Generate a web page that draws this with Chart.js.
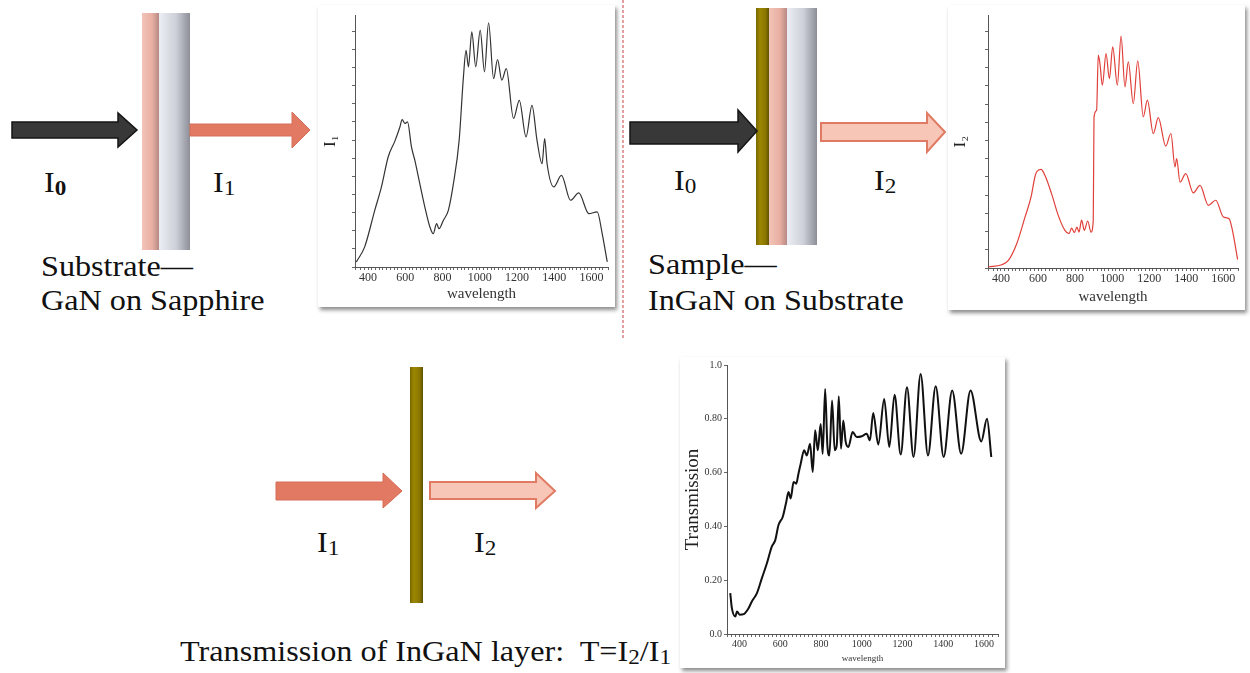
<!DOCTYPE html>
<html>
<head>
<meta charset="utf-8">
<script src="https://cdn.jsdelivr.net/npm/chart.js@4"></script>
<style>
  body { margin: 0; background: #fff; width: 1250px; height: 673px; position: relative; overflow: hidden; color: #111; }
  .lbl { position: absolute; font-family: 'Liberation Serif', 'DejaVu Serif', serif; font-size: 29px; line-height: 1; white-space: nowrap;
         transform: scaleX(1.11); transform-origin: 0 0; }
  .lbl sub { font-size: 0.72em; vertical-align: -0.15em; line-height: 0; }
  .panel { position: absolute; background: #fff; box-shadow: 2px 3px 4px rgba(0,0,0,0.45); }
  .panel canvas { display: block; }
  svg { position: absolute; left: 0; top: 0; }
</style>
</head>
<body>

<svg width="1250" height="673">
  <defs>
    <linearGradient id="gPink" x1="0" x2="1" y1="0" y2="0">
      <stop offset="0" stop-color="#f3c4b8"/><stop offset="0.6" stop-color="#e8afa3"/><stop offset="1" stop-color="#b68a84"/>
    </linearGradient>
    <linearGradient id="gGrey" x1="0" x2="1" y1="0" y2="0">
      <stop offset="0" stop-color="#eceef4"/><stop offset="0.55" stop-color="#cdd0d8"/><stop offset="1" stop-color="#8d8e98"/>
    </linearGradient>
    <linearGradient id="gOlive" x1="0" x2="1" y1="0" y2="0">
      <stop offset="0" stop-color="#7a6800"/><stop offset="0.3" stop-color="#9c8700"/><stop offset="0.75" stop-color="#8a7600"/><stop offset="1" stop-color="#5f5200"/>
    </linearGradient>
  </defs>

  <!-- dashed divider -->
  <line x1="623" y1="0" x2="623" y2="340" stroke="#d98080" stroke-width="1.5" stroke-dasharray="3 2"/>

  <!-- substrate -->
  <rect x="142" y="13" width="17" height="237" fill="url(#gPink)"/>
  <rect x="159" y="13" width="31" height="237" fill="url(#gGrey)"/>
  <polygon points="12,122 118,122 118,113 137,130 118,147 118,138 12,138" fill="#383838" stroke="#151515" stroke-width="1.5"/>
  <polygon points="190,124 292,124 292,112 310,130 292,148 292,136 190,136" fill="#e27a63" stroke="#d66c57" stroke-width="1"/>

  <!-- sample -->
  <rect x="756" y="8" width="13" height="237" fill="url(#gOlive)"/>
  <rect x="769" y="8" width="18" height="237" fill="url(#gPink)"/>
  <rect x="787" y="8" width="30" height="237" fill="url(#gGrey)"/>
  <polygon points="630,122 738,122 738,110 757,131 738,152 738,144 630,144" fill="#383838" stroke="#151515" stroke-width="1.5"/>
  <polygon points="821,123 927,123 927,113 945,132 927,152 927,141 821,141" fill="#f8c6b7" stroke="#e07a63" stroke-width="2"/>

  <!-- InGaN layer alone -->
  <rect x="410" y="367" width="13" height="236" fill="url(#gOlive)"/>
  <polygon points="276,482 383,482 383,473 402,491 383,508 383,500 276,500" fill="#e27a63" stroke="#d66c57" stroke-width="1"/>
  <polygon points="430,482 536,482 536,473 555,491 536,508 536,499 430,499" fill="#f8c6b7" stroke="#e07a63" stroke-width="2"/>
</svg>

<div class="lbl" style="left:44px; top:168px;">I<sub style="font-weight:bold">0</sub></div>
<div class="lbl" style="left:213px; top:168px;">I<sub>1</sub></div>
<div class="lbl" style="left:41px; top:252px;">Substrate—</div>
<div class="lbl" style="left:41px; top:286px;">GaN on Sapphire</div>

<div class="lbl" style="left:674px; top:166px;">I<sub>0</sub></div>
<div class="lbl" style="left:874px; top:166px;">I<sub>2</sub></div>
<div class="lbl" style="left:648px; top:250px;">Sample—</div>
<div class="lbl" style="left:648px; top:286px;">InGaN on Substrate</div>

<div class="lbl" style="left:317px; top:528px;">I<sub>1</sub></div>
<div class="lbl" style="left:474px; top:528px;">I<sub>2</sub></div>
<div class="lbl" style="left:180px; top:637px;">Transmission of InGaN layer:&nbsp; T=I<sub>2</sub>/I<sub>1</sub></div>

<div class="panel" style="left:318px; top:5px; width:297px; height:302px;"><canvas id="c1" width="297" height="302"></canvas></div>
<div class="panel" style="left:948px; top:5px; width:297px; height:305px;"><canvas id="c2" width="297" height="305"></canvas></div>
<div class="panel" style="left:680px; top:357px; width:325px; height:311px;"><canvas id="c3" width="325" height="311"></canvas></div>

<script>
// substrate spectrum I1 (arbitrary units, 0-100)
const wl1 = [337,382,436,472,508,544,571,583,598,612,633,651,678,705,732,750,768,781,804,831,
             858,889,912,926,939,957,978,1002,1025,1047,1074,1095,1118,1142,1181,1212,1248,1280,1307,1334,
             1348,1361,1397,1438,1487,1531,1585,1630,1657,1684];
const i1 = [2,8,22.5,31.8,43.7,50,55.6,58.5,57,57.6,47.7,42.4,33,23.8,15.9,13.2,17.2,15.2,18.5,22.5,
            33,50.3,75.5,86,79.5,93.4,79.5,94,77.5,97,74.8,82.4,74.2,78.8,59,66.2,51.7,64.2,50.3,41,
            51,41,31.8,36.4,26.5,29.4,21.2,21.9,13.2,2];

// sample spectrum I2
const wl2 = [332,404,440,485,530,562,583,592,616,637,673,709,745,767,781,796,810,821,835,850,
             868,886,898,902,916,925,934,947,967,985,1003,1028,1048,1069,1087,1114,1138,1168,1190,1222,
             1249,1289,1317,1339,1348,1366,1397,1438,1474,1519,1559,1600,1631,1649,1677];
const i2 = [0.4,1.3,3,9.6,20.2,28,36,38,39,36.7,29.4,20.8,14.9,13.6,15.8,14,16.2,14.2,18.9,14.9,
            18.6,14.2,18.9,59.8,62.4,84.2,80.9,72.3,84.8,74.9,87.5,72.3,91.7,71.6,81.5,65,81.9,59.8,66.4,53.2,
            59.5,48.2,53.2,40,43.3,34,37.3,29.7,32.7,24.8,26.8,20.2,19.5,14.9,3.3];

// transmission T = I2/I1
const wl3 = [354,362,379,387,400,420,444,460,485,509,534,558,575,591,612,629,640,651,665,678,
             689,700,717,730,746,759,771,784,798,808,820,831,841,854,867,877,887,898,909,921,
             934,955,975,1000,1024,1040,1056,1081,1110,1135,1161,1191,1222,1254,1289,1325,1363,1402,1444,1488,
             1534,1587,1615,1636];
const t3 = [0.152,0.096,0.065,0.084,0.072,0.074,0.096,0.121,0.152,0.207,0.263,0.325,0.349,0.405,0.436,0.491,0.528,0.504,0.565,0.559,
            0.596,0.633,0.683,0.664,0.707,0.602,0.757,0.683,0.781,0.670,0.911,0.701,0.664,0.868,0.683,0.701,0.884,0.689,0.794,0.714,
            0.695,0.751,0.732,0.735,0.744,0.720,0.822,0.704,0.874,0.695,0.889,0.667,0.917,0.658,0.967,0.664,0.921,0.658,0.905,0.670,
            0.905,0.716,0.800,0.658];

// tick labels
const xLabels = [400, 600, 800, 1000, 1200, 1400, 1600];
const tLabels = ['0.0', '0.20', '0.40', '0.60', '0.80', '1.0'];

const serif = "'Liberation Serif', 'DejaVu Serif', serif";
Chart.defaults.font.family = serif;
Chart.defaults.color = '#333';

function pts(xs, ys) {
    return xs.map((x, i) => ({x: x, y: ys[i]}));
}

function xScale(min, max, fontSize, titleSize, height) {
    return {
        type: 'linear', min: min, max: max,
        border: {color: '#555'},
        grid: {drawOnChartArea: false, tickLength: 3, color: '#666'},
        ticks: {
            stepSize: 20, autoSkip: false, maxRotation: 0, padding: 1,
            font: {size: fontSize}, color: '#333',
            callback: v => xLabels.includes(v) ? String(v) : ''
        },
        title: {display: true, text: 'wavelength', font: {size: titleSize}, color: '#333', padding: {top: 0, bottom: 4}},
        afterFit: s => { s.height = height; }
    };
}

// I1
new Chart(document.getElementById('c1'), {
    type: 'line',
    data: {datasets: [{data: pts(wl1, i1), borderColor: '#333', borderWidth: 1.2, pointRadius: 0,
                       cubicInterpolationMode: 'monotone', fill: false}]},
    options: {
        responsive: false, animation: false,
        plugins: {legend: {display: false}, tooltip: {enabled: false}},
        layout: {padding: {left: 0, right: 7, top: 10, bottom: 0}},
        scales: {
            x: xScale(330, 1688, 12, 15, 40),
            y: {
                min: 0, max: 100,
                border: {color: '#555'},
                grid: {drawOnChartArea: false, tickLength: 3, color: '#666'},
                ticks: {stepSize: 3.6, callback: () => ''},
                title: {display: true, text: 'I₁', font: {size: 17}, color: '#222', padding: 2},
                afterFit: s => { s.width = 37; }
            }
        }
    }
});

// I2
new Chart(document.getElementById('c2'), {
    type: 'line',
    data: {datasets: [{data: pts(wl2, i2), borderColor: '#e0403a', borderWidth: 1.2, pointRadius: 0,
                       cubicInterpolationMode: 'monotone', fill: false}]},
    options: {
        responsive: false, animation: false,
        plugins: {legend: {display: false}, tooltip: {enabled: false}},
        layout: {padding: {left: 0, right: 7, top: 10, bottom: 0}},
        scales: {
            x: xScale(330, 1679, 12, 15, 42),
            y: {
                min: 0, max: 100,
                border: {color: '#555'},
                grid: {drawOnChartArea: false, tickLength: 3, color: '#666'},
                ticks: {stepSize: 3.6, callback: () => ''},
                title: {display: true, text: 'I₂', font: {size: 17}, color: '#222', padding: 2},
                afterFit: s => { s.width = 40; }
            }
        }
    }
});

// Transmission
new Chart(document.getElementById('c3'), {
    type: 'line',
    data: {datasets: [{data: pts(wl3, t3), borderColor: '#111', borderWidth: 2, pointRadius: 0,
                       cubicInterpolationMode: 'monotone', fill: false}]},
    options: {
        responsive: false, animation: false,
        plugins: {legend: {display: false}, tooltip: {enabled: false}},
        layout: {padding: {left: 0, right: 7, top: 7, bottom: 0}},
        scales: {
            x: xScale(338, 1669, 10, 9, 34),
            y: {
                min: 0, max: 1,
                border: {color: '#555'},
                grid: {drawOnChartArea: false, tickLength: 3, color: '#666'},
                ticks: {stepSize: 0.2, padding: 2, font: {size: 10}, color: '#333',
                        callback: v => tLabels[Math.round(v * 5)]},
                title: {display: true, text: 'Transmission', font: {size: 19}, color: '#222', padding: 2},
                afterFit: s => { s.width = 47; }
            }
        }
    }
});
</script>
</body>
</html>
